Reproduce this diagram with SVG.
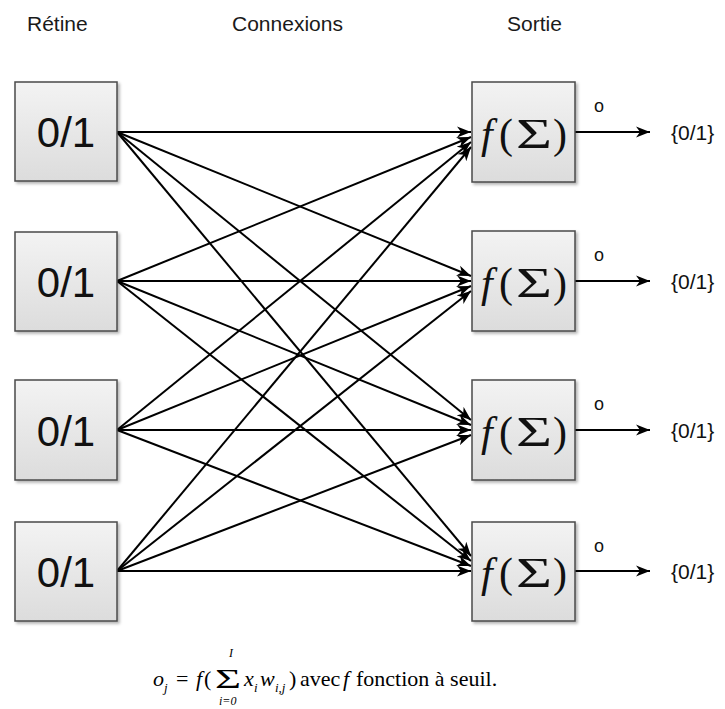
<svg xmlns="http://www.w3.org/2000/svg" width="725" height="709" viewBox="0 0 725 709">
<defs>
<linearGradient id="boxfill" x1="0" y1="0" x2="0" y2="1">
<stop offset="0" stop-color="#f3f3f3"/>
<stop offset="1" stop-color="#dcdcdc"/>
</linearGradient>
<filter id="shadow" x="-10%" y="-10%" width="130%" height="130%">
<feDropShadow dx="2" dy="2" stdDeviation="1.5" flood-color="#000" flood-opacity="0.3"/>
</filter>
<marker id="arr" markerUnits="userSpaceOnUse" markerWidth="16" markerHeight="12" refX="14" refY="6" orient="auto" viewBox="0 0 16 12">
<path d="M0,0.5 L14,6 L0,11.5 L4,6 z" fill="#000"/>
</marker>
</defs>
<style>
.box{fill:url(#boxfill);stroke:#4a4a4a;stroke-width:1.5;filter:url(#shadow)}
.lbl{font-family:"Liberation Sans",Arial,sans-serif;font-size:21px;fill:#1a1a1a}
.in{font-family:"Liberation Sans",Arial,sans-serif;font-size:42px;fill:#111;text-anchor:middle}
.fs{font-family:"Liberation Serif","Times New Roman",serif;font-size:42px;fill:#111}
.o{font-family:"Liberation Sans",Arial,sans-serif;font-size:18px;fill:#111}
.out{font-family:"Liberation Sans",Arial,sans-serif;font-size:21px;fill:#111}
.fm{font-family:"Liberation Serif","Times New Roman",serif;font-size:22px;fill:#000}
.fmi{font-family:"Liberation Serif","Times New Roman",serif;font-size:22px;font-style:italic;fill:#000}
.sig{font-family:"Liberation Serif","Times New Roman",serif;font-size:28px;fill:#000}
.sub{font-family:"Liberation Serif","Times New Roman",serif;font-size:13px;font-style:italic;fill:#000}
.lim{font-family:"Liberation Serif","Times New Roman",serif;font-size:12px;font-style:italic;fill:#000}
.edge{stroke:#000;stroke-width:2;fill:none;marker-end:url(#arr)}
</style>
<rect width="725" height="709" fill="#fff"/>

<g id="headers">
<text class="lbl" x="27" y="31">Rétine</text>
<text class="lbl" x="232" y="31">Connexions</text>
<text class="lbl" x="507" y="31">Sortie</text>
</g>

<g id="connectors">
<line class="edge" x1="117" y1="132" x2="471" y2="132"/>
<line class="edge" x1="117" y1="281" x2="471" y2="137"/>
<line class="edge" x1="117" y1="430" x2="471" y2="142"/>
<line class="edge" x1="117" y1="571" x2="471" y2="147"/>
<line class="edge" x1="117" y1="132" x2="471" y2="276"/>
<line class="edge" x1="117" y1="281" x2="471" y2="281"/>
<line class="edge" x1="117" y1="430" x2="471" y2="286"/>
<line class="edge" x1="117" y1="571" x2="471" y2="291"/>
<line class="edge" x1="117" y1="132" x2="471" y2="420"/>
<line class="edge" x1="117" y1="281" x2="471" y2="425"/>
<line class="edge" x1="117" y1="430" x2="471" y2="430"/>
<line class="edge" x1="117" y1="571" x2="471" y2="435"/>
<line class="edge" x1="117" y1="132" x2="471" y2="556"/>
<line class="edge" x1="117" y1="281" x2="471" y2="561"/>
<line class="edge" x1="117" y1="430" x2="471" y2="566"/>
<line class="edge" x1="117" y1="571" x2="471" y2="571"/>
<line class="edge" x1="575" y1="132" x2="650" y2="132"/>
<line class="edge" x1="575" y1="281" x2="650" y2="281"/>
<line class="edge" x1="575" y1="430" x2="650" y2="430"/>
<line class="edge" x1="575" y1="571" x2="650" y2="571"/>
</g>

<g id="in1"><rect class="box" x="15" y="82" width="102" height="99"/><text class="in" x="66" y="147">0/1</text></g>
<g id="in2"><rect class="box" x="15" y="232" width="102" height="99"/><text class="in" x="66" y="297">0/1</text></g>
<g id="in3"><rect class="box" x="15" y="380" width="102" height="100"/><text class="in" x="66" y="446">0/1</text></g>
<g id="in4"><rect class="box" x="15" y="522" width="102" height="99"/><text class="in" x="66" y="587">0/1</text></g>

<g id="out1"><rect class="box" x="472" y="82" width="103" height="100"/>
<text class="fs" x="481" y="148"><tspan font-style="italic">f</tspan><tspan x="499">(</tspan><tspan x="516" textLength="36" lengthAdjust="spacingAndGlyphs">Σ</tspan><tspan x="553">)</tspan></text>
<text class="o" x="594" y="112">o</text><text class="out" x="671" y="140">{0/1}</text></g>
<g id="out2"><rect class="box" x="472" y="231" width="103" height="100"/>
<text class="fs" x="481" y="297"><tspan font-style="italic">f</tspan><tspan x="499">(</tspan><tspan x="516" textLength="36" lengthAdjust="spacingAndGlyphs">Σ</tspan><tspan x="553">)</tspan></text>
<text class="o" x="594" y="261">o</text><text class="out" x="671" y="289">{0/1}</text></g>
<g id="out3"><rect class="box" x="472" y="380" width="103" height="100"/>
<text class="fs" x="481" y="446"><tspan font-style="italic">f</tspan><tspan x="499">(</tspan><tspan x="516" textLength="36" lengthAdjust="spacingAndGlyphs">Σ</tspan><tspan x="553">)</tspan></text>
<text class="o" x="594" y="410">o</text><text class="out" x="671" y="438">{0/1}</text></g>
<g id="out4"><rect class="box" x="472" y="522" width="103" height="99"/>
<text class="fs" x="481" y="587"><tspan font-style="italic">f</tspan><tspan x="499">(</tspan><tspan x="516" textLength="36" lengthAdjust="spacingAndGlyphs">Σ</tspan><tspan x="553">)</tspan></text>
<text class="o" x="594" y="552">o</text><text class="out" x="671" y="579">{0/1}</text></g>

<g id="formula">
<text class="fmi" x="153" y="686">o</text><text class="sub" x="164" y="692">j</text>
<text class="fm" x="176" y="686">=</text>
<text class="fmi" x="196" y="686">f</text><text class="fm" x="204" y="686">(</text>
<text class="sig" x="215" y="688" textLength="26" lengthAdjust="spacingAndGlyphs">Σ</text>
<text class="lim" x="229" y="657">I</text>
<text class="lim" x="219" y="705">i=0</text>
<text class="fmi" x="244" y="686">x</text><text class="sub" x="254" y="692">i</text>
<text class="fmi" x="260" y="686">w</text><text class="sub" x="275" y="692">i,j</text>
<text class="fm" x="289" y="686">)</text>
<text class="fm" x="300" y="686">avec</text>
<text class="fmi" x="343" y="686">f</text>
<text class="fm" x="356" y="686">fonction à seuil.</text>
</g>
</svg>
